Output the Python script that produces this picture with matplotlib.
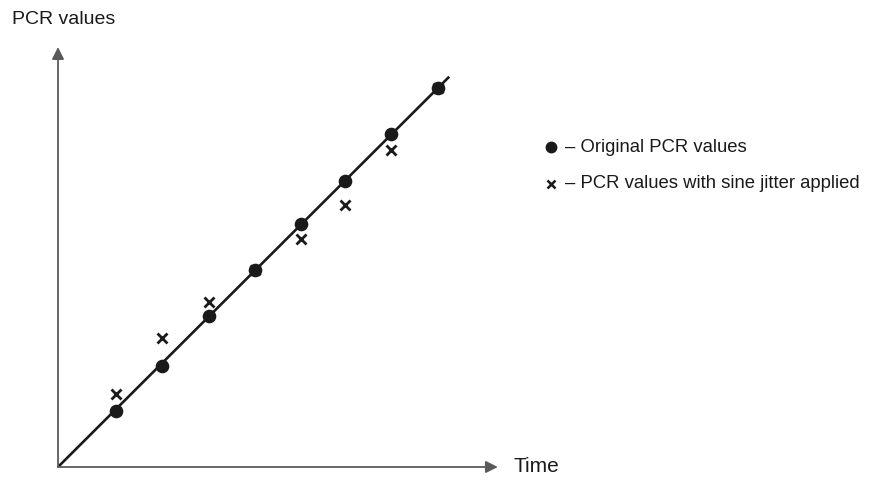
import matplotlib
matplotlib.use("Agg")
import matplotlib.pyplot as plt

plt.rcParams['font.family'] = ['Liberation Sans Narrow', 'Liberation Sans', 'DejaVu Sans']

# time positions of the samples (arbitrary units)
times = [1.25, 2.25, 3.26, 4.25, 5.25, 6.2, 7.19, 8.2]
pcr_original = [1.21, 2.18, 3.26, 4.25, 5.25, 6.18, 7.19, 8.19]
pcr_jitter = [1.58, 2.79, 3.56, 4.25, 4.92, 5.66, 6.85, 8.19]
line_x = [0, 8.45]
line_y = [0, 8.43]

fig = plt.figure(figsize=(8.84, 4.8), dpi=100)
ax = fig.add_axes([58 / 884, 13 / 480, 463 / 884, 463 / 480])
ax.set_xlim(0, 10)
ax.set_ylim(0, 10)
ax.axis('off')

# axes arrows
axis_col = '#5a5a5a'
for tip in [(9.5, 0), (0, 9.07)]:
    ax.annotate('', xy=tip, xytext=(0, 0),
                arrowprops=dict(arrowstyle='-|>', color=axis_col, lw=1.3,
                                mutation_scale=18, shrinkA=0, shrinkB=0),
                annotation_clip=False)

ax.plot(line_x, line_y, color='#1a1a1a', lw=1.9, solid_capstyle='butt')
ax.plot(times, pcr_original, 'o', color='#1a1a1a', ms=8.8, ls='none')
ax.plot(times, pcr_jitter, 'x', color='#1a1a1a', ms=6.5, mew=2.0, ls='none')

fig.text(12 / 884, 1 - 20 / 480, 'PCR values', fontsize=14, va='center', ha='left', color='#1a1a1a')
fig.text(514 / 884, 1 - 467 / 480, 'Time', fontsize=15, va='center', ha='left', color='#1a1a1a')

# legend drawn by hand
lx = 551 / 884
ax.plot([lx], [1 - 147 / 480], 'o', color='#1a1a1a', ms=7.5, transform=fig.transFigure, clip_on=False)
ax.plot([lx], [1 - 184 / 480], 'x', color='#1a1a1a', ms=6, mew=1.8, transform=fig.transFigure, clip_on=False)
fig.text(565 / 884, 1 - 147 / 480, '\u2013 Original PCR values', fontsize=13.3, va='center', ha='left', color='#1a1a1a')
fig.text(565 / 884, 1 - 184 / 480, '\u2013 PCR values with sine jitter applied', fontsize=13.3, va='center', ha='left', color='#1a1a1a')

fig.savefig('out.png', dpi=100)
